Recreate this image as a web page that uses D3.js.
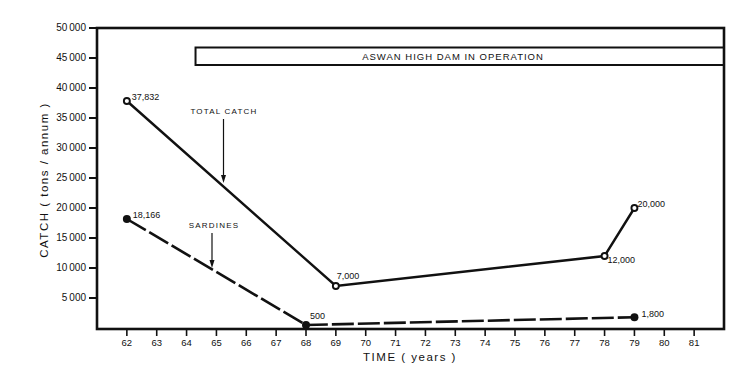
<!DOCTYPE html>
<html>
<head>
<meta charset="utf-8">
<script src="https://cdn.jsdelivr.net/npm/d3@7"></script>
<style>
  body { margin: 0; background: #fff; }
  text { font-family: "Liberation Sans", Arial, sans-serif; fill: #111; }
</style>
</head>
<body>
<div class="chart"></div>
<script>
const width = 750, height = 385;

// data
const years = [62, 63, 64, 65, 66, 67, 68, 69, 70, 71, 72, 73, 74, 75, 76, 77, 78, 79, 80, 81];
const yTicks = [5000, 10000, 15000, 20000, 25000, 30000, 35000, 40000, 45000, 50000];
const totalYears = [62, 69, 78, 79];
const totalCatch = [37832, 7000, 12000, 20000];
const totalLabels = ["37,832", "7,000", "12,000", "20,000"];
const sardineYears = [62, 68, 79];
const sardineCatch = [18166, 500, 1800];
const sardineLabels = ["18,166", "500", "1,800"];
const damStart = 64.3;

const total = totalYears.map((y, i) => ({year: y, v: totalCatch[i], lab: totalLabels[i]}));
const sardines = sardineYears.map((y, i) => ({year: y, v: sardineCatch[i], lab: sardineLabels[i]}));

const plotL = 97, plotR = 724, plotT = 28, plotB = 328;

const x = d3.scaleLinear().domain([61, 82]).range([plotL, plotR]);
const y = d3.scaleLinear().domain([0, 50000]).range([plotB, plotT]);

const svg = d3.select(".chart").append("svg")
  .attr("width", width).attr("height", height);

// frame
svg.append("rect")
  .attr("x", plotL).attr("y", plotT)
  .attr("width", plotR - plotL).attr("height", plotB + 1 - plotT)
  .attr("fill", "none").attr("stroke", "#111").attr("stroke-width", 2.6);

// y axis ticks
const yAxis = svg.append("g");
yAxis.selectAll("line").data(yTicks).enter().append("line")
  .attr("x1", plotL - 8).attr("x2", plotL)
  .attr("y1", d => y(d)).attr("y2", d => y(d))
  .attr("stroke", "#111").attr("stroke-width", 2);
yAxis.selectAll("text").data(yTicks).enter().append("text")
  .attr("x", plotL - 11).attr("y", d => y(d))
  .attr("text-anchor", "end").attr("dominant-baseline", "middle")
  .style("font-size", "10px")
  .text(d => d3.format(",")(d).replace(",", "\u2009"));

// x axis ticks
const xAxis = svg.append("g");
xAxis.selectAll("line").data(years).enter().append("line")
  .attr("x1", d => x(d)).attr("x2", d => x(d))
  .attr("y1", plotB + 2).attr("y2", plotB + 8)
  .attr("stroke", "#111").attr("stroke-width", 1.6);
xAxis.selectAll("text").data(years).enter().append("text")
  .attr("x", d => x(d)).attr("y", plotB + 15)
  .attr("text-anchor", "middle").attr("dominant-baseline", "middle")
  .style("font-size", "9.5px")
  .text(d => d);

// axis titles
svg.append("text")
  .attr("x", 410).attr("y", 358)
  .attr("text-anchor", "middle").attr("dominant-baseline", "middle")
  .style("font-size", "11.5px").style("letter-spacing", "1.5px")
  .text("TIME ( years )");
svg.append("text")
  .attr("transform", "translate(45,180) rotate(-90)")
  .attr("text-anchor", "middle").attr("dominant-baseline", "middle")
  .style("font-size", "11.5px").style("letter-spacing", "1.5px")
  .text("CATCH ( tons / annum )");

// dam in operation bar
svg.append("rect")
  .attr("x", x(damStart)).attr("y", 47.5)
  .attr("width", plotR - x(damStart)).attr("height", 17.5)
  .attr("fill", "none").attr("stroke", "#111").attr("stroke-width", 2);
svg.append("text")
  .attr("x", 453).attr("y", 57.5)
  .attr("text-anchor", "middle").attr("dominant-baseline", "middle")
  .style("font-size", "9.5px").style("letter-spacing", "1px")
  .text("ASWAN HIGH DAM IN OPERATION");

const line = d3.line().x(d => x(d.year)).y(d => y(d.v));

// sardines
svg.append("path").datum(sardines)
  .attr("d", line)
  .attr("fill", "none").attr("stroke", "#111").attr("stroke-width", 2.6)
  .attr("stroke-dasharray", "22,4");
svg.selectAll(".sard").data(sardines).enter().append("circle")
  .attr("class", "sard")
  .attr("cx", d => x(d.year)).attr("cy", d => y(d.v)).attr("r", 4)
  .attr("fill", "#111");

// total catch
svg.append("path").datum(total)
  .attr("d", line)
  .attr("fill", "none").attr("stroke", "#111").attr("stroke-width", 2.4);
svg.selectAll(".tot").data(total).enter().append("circle")
  .attr("class", "tot")
  .attr("cx", d => x(d.year)).attr("cy", d => y(d.v)).attr("r", 3)
  .attr("fill", "#fff").attr("stroke", "#111").attr("stroke-width", 1.9);

// value labels
const totalOff = [[5, -3], [1, -9], [3, 5], [3, -3]];
const sardOff = [[6, -3], [4, -8], [7, -3]];
svg.selectAll(".tl").data(total).enter().append("text")
  .attr("x", (d, i) => x(d.year) + totalOff[i][0])
  .attr("y", (d, i) => y(d.v) + totalOff[i][1])
  .attr("dominant-baseline", "middle")
  .style("font-size", "9px")
  .text(d => d.lab);
svg.selectAll(".sl").data(sardines).enter().append("text")
  .attr("x", (d, i) => x(d.year) + sardOff[i][0])
  .attr("y", (d, i) => y(d.v) + sardOff[i][1])
  .attr("dominant-baseline", "middle")
  .style("font-size", "9px")
  .text(d => d.lab);

// annotations with arrows
function note(txt, tx, ty, ax, ay1, ay2) {
  svg.append("text")
    .attr("x", tx).attr("y", ty)
    .attr("text-anchor", "middle").attr("dominant-baseline", "middle")
    .style("font-size", "8px").style("letter-spacing", "1.2px")
    .text(txt);
  svg.append("line")
    .attr("x1", ax).attr("x2", ax).attr("y1", ay1).attr("y2", ay2 - 8)
    .attr("stroke", "#111").attr("stroke-width", 1.2);
  svg.append("path")
    .attr("d", `M${ax - 2.5},${ay2 - 8} L${ax},${ay2} L${ax + 2.5},${ay2 - 8} Z`)
    .attr("fill", "#111");
}
note("TOTAL CATCH", 224, 112, 223.5, 119, 183);
note("SARDINES", 214, 226, 212, 233, 268);
</script>
</body>
</html>
